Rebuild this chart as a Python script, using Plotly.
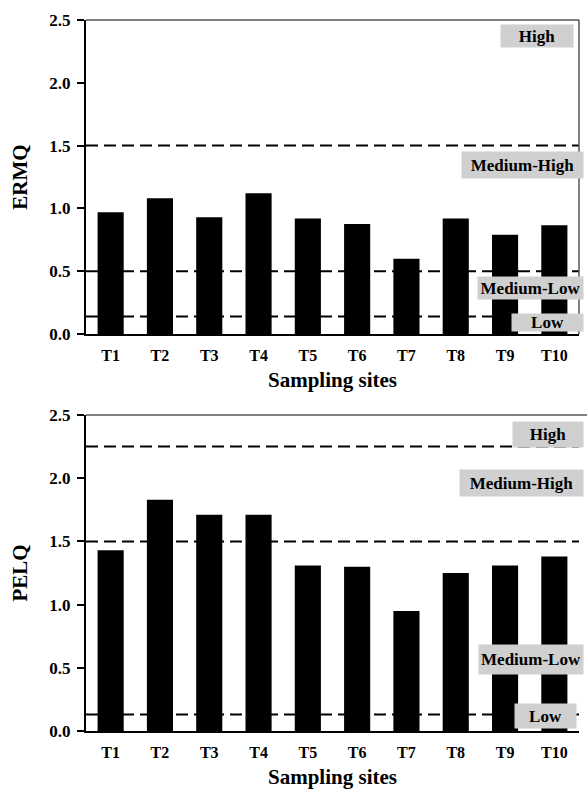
import plotly.graph_objects as go

sites = ["T1", "T2", "T3", "T4", "T5", "T6", "T7", "T8", "T9", "T10"]
ermq = [0.97, 1.08, 0.93, 1.12, 0.92, 0.875, 0.60, 0.92, 0.79, 0.865]
pelq = [1.43, 1.83, 1.71, 1.71, 1.31, 1.30, 0.95, 1.25, 1.31, 1.38]
ermq_thresholds = [0.14, 0.5, 1.5]
pelq_thresholds = [0.13, 1.5, 2.25]
y_ticks = [0.0, 0.5, 1.0, 1.5, 2.0, 2.5]
y_ticktext = ["0.0", "0.5", "1.0", "1.5", "2.0", "2.5"]

W, H = 587, 793
PL, PR, PT, PB = 86, 579, 20, 740          # plot area in window pixels
ML, MR, MT, MB = PL, W - PR, PT, H - PB
PW = PR - PL
PH = PB - PT

def px_x(p):
    return (p - PL) / PW

def px_y(p):
    return (PB - p) / PH

FONT = "Liberation Serif"

fig = go.Figure()
fig.add_trace(go.Bar(x=sites, y=ermq, marker=dict(color="black", line=dict(width=0)),
                     width=0.53, xaxis="x", yaxis="y", showlegend=False))
fig.add_trace(go.Bar(x=sites, y=pelq, marker=dict(color="black", line=dict(width=0)),
                     width=0.53, xaxis="x2", yaxis="y2", showlegend=False))

tickfont = dict(family=FONT, size=16, color="black", weight="bold")
titlefont = dict(family=FONT, size=21, color="black", weight="bold")

def yax(domain, title, anchor):
    return dict(domain=domain, range=[0, 2.5], tickvals=y_ticks, ticktext=y_ticktext,
                ticks="outside", ticklen=7, tickwidth=1.5, tickcolor="black",
                ticklabelstandoff=3,
                showline=True, linecolor="black", linewidth=2, showgrid=False,
                zeroline=False, tickfont=dict(tickfont, size=17), anchor=anchor,
                title=dict(text=title, font=titlefont, standoff=16))

def xax(anchor):
    return dict(domain=[0, 1], type="category", range=[-0.5, 9.5], anchor=anchor,
                showline=True, linecolor="black", linewidth=2, showgrid=False,
                ticks="", tickfont=tickfont, ticklabelstandoff=6,
                title=dict(text="Sampling sites", font=titlefont, standoff=9))

top_dom = [px_y(338), px_y(20)]
bot_dom = [px_y(740), px_y(420)]

fig.update_layout(
    width=W, height=H, margin=dict(l=ML, r=MR, t=MT, b=MB),
    paper_bgcolor="white", plot_bgcolor="white", bargap=0.47,
    xaxis=xax("y"), yaxis=yax(top_dom, "ERMQ", "x"),
    xaxis2=xax("y2"), yaxis2=yax(bot_dom, "PELQ", "x2"),
)

# threshold dashed lines
for v in ermq_thresholds:
    fig.add_shape(type="line", xref="x domain", yref="y", x0=0, x1=1, y0=v, y1=v,
                  line=dict(color="black", width=2, dash="12px,6px"))
for v in pelq_thresholds:
    fig.add_shape(type="line", xref="x2 domain", yref="y2", x0=0, x1=1, y0=v, y1=v,
                  line=dict(color="black", width=2, dash="12px,6px"))

# frame lines (top / right)
fig.add_shape(type="line", xref="paper", yref="paper", x0=0, x1=1, y0=top_dom[1], y1=top_dom[1],
              line=dict(color="#555555", width=1.5))
fig.add_shape(type="line", xref="paper", yref="paper", x0=1, x1=1, y0=top_dom[0], y1=top_dom[1],
              line=dict(color="#555555", width=1.5))
fig.add_shape(type="line", xref="paper", yref="paper", x0=0, x1=px_x(587), y0=bot_dom[1], y1=bot_dom[1],
              line=dict(color="#555555", width=1.5))

# level label boxes: (label, x0, x1, y0, y1) in window pixels
boxes = [
    ("High", 501, 573, 25, 47),
    ("Medium-High", 462, 583, 154, 180),
    ("Medium-Low", 478, 583, 280, 302),
    ("Low", 512, 583, 318, 335),
    ("High", 513, 583, 427, 452),
    ("Medium-High", 460, 583, 476, 502),
    ("Medium-Low", 479, 583, 653, 682),
    ("Low", 515, 576, 713, 737),
]
for lab, x0, x1, y0, y1 in boxes:
    fig.add_annotation(xref="paper", yref="paper", x=px_x((x0 + x1) / 2), y=px_y((y0 + y1) / 2),
                       text=lab, showarrow=False, xanchor="center", yanchor="middle",
                       width=x1 - x0, height=y1 - y0, borderpad=0, bgcolor="#d0d0d0",
                       font=dict(family=FONT, size=17, color="black", weight="bold"))

fig.write_html("out.html", config={"displayModeBar": False},
               post_script="document.body.style.margin='0';document.body.style.overflow='hidden';")
